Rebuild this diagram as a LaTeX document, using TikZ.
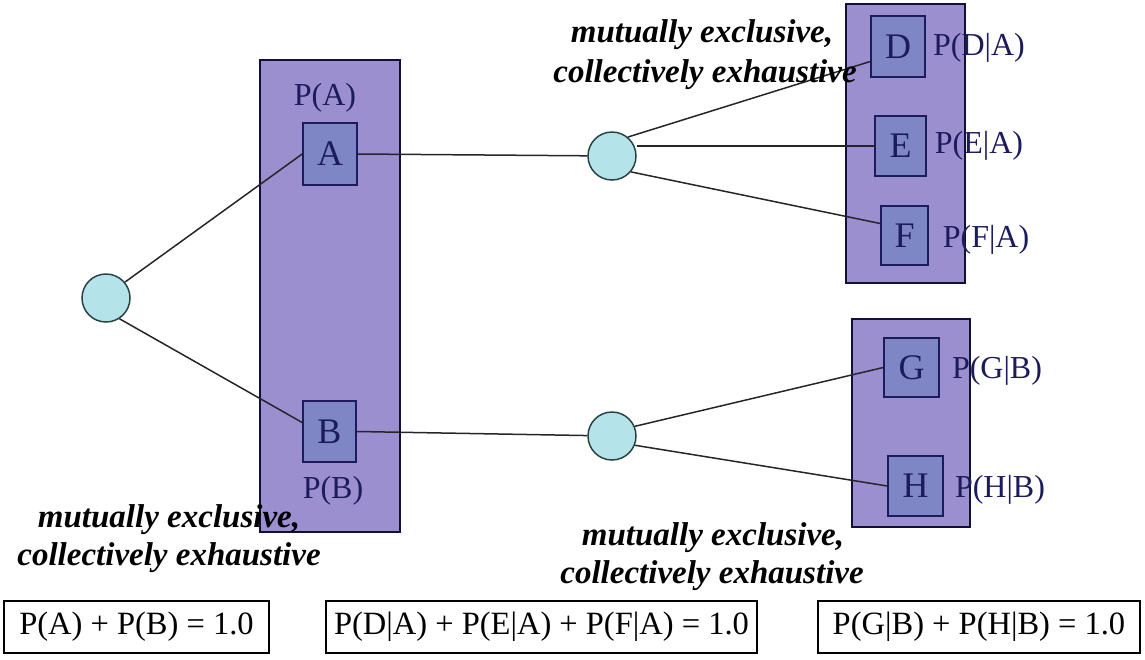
\documentclass[tikz,border=0pt]{standalone}
\usepackage{fontspec}
\setmainfont{Liberation Serif}
\definecolor{outerfill}{HTML}{9B8FCF}
\definecolor{innerfill}{HTML}{7F86C6}
\definecolor{navy}{HTML}{1C1C5C}
\definecolor{circfill}{HTML}{B4E3EA}
\definecolor{circline}{HTML}{2A4444}
\begin{document}
\begin{tikzpicture}[x=1pt,y=-1pt,
  outerbox/.style={draw=navy!60!black, line width=1.6pt, fill=outerfill, inner sep=0pt},
  evbox/.style={draw=navy, line width=1.6pt, fill=innerfill, inner sep=0pt, text=navy, font=\fontsize{36}{40}\selectfont},
  chance/.style={circle, draw=circline, line width=1.5pt, fill=circfill, minimum size=48pt, inner sep=0pt},
  plabel/.style={anchor=base, text=navy, font=\fontsize{32}{36}\selectfont, inner sep=0pt},
  mece/.style={anchor=base, font=\bfseries\itshape\fontsize{33}{38}\selectfont, inner sep=0pt},
  eqbox/.style={draw=black, line width=1.3pt, minimum height=52pt, inner sep=0pt, font=\fontsize{32.5}{36}\selectfont},
  link/.style={draw=black!85, line width=1.5pt}]
\useasboundingbox (0,0) rectangle (1145,659);

% outer group boxes
\node[outerbox, minimum width=140pt, minimum height=472pt] (AB) at (330,296) {};
\node[outerbox, minimum width=119pt, minimum height=279pt] (DEF) at (905.5,143.5) {};
\node[outerbox, minimum width=118pt, minimum height=208pt] (GH) at (911,423) {};

% chance nodes
\node[chance] (c1) at (106,298) {};
\node[chance] (c2) at (612,156) {};
\node[chance] (c3) at (612,436) {};

% event boxes
\node[evbox, minimum width=54pt, minimum height=62pt] (A) at (330,154) {A};
\node[evbox, minimum width=53pt, minimum height=61pt] (B) at (329.5,431.5) {B};
\node[evbox, minimum width=54pt, minimum height=61pt] (D) at (898,46.5) {D};
\node[evbox, minimum width=51pt, minimum height=60pt] (E) at (900.5,146) {E};
\node[evbox, minimum width=47pt, minimum height=59pt] (F) at (904.5,235.5) {F};
\node[evbox, minimum width=55pt, minimum height=59pt] (G) at (911.5,367.5) {G};
\node[evbox, minimum width=55pt, minimum height=60pt] (H) at (915.5,486) {H};

% connectors
\draw[link] (c1.40) -- (A.west);
\draw[link] (c1.-57) -- ([yshift=9pt]B.west);
\draw[link] (A.east) -- (c2);
\draw[link] (B.east) -- (c3);
\draw[link] (c2.50) -- ([yshift=-15pt]D.west);
\draw[link] (c2.east |- E.west) -- (E.west);
\draw[link] (c2.-40) -- ([yshift=12pt]F.west);
\draw[link] (c3.23) -- (G.west);
\draw[link] (c3.-22) -- (H.west);

% probability labels
\node[plabel] (pA) at (325,105) {P(A)};
\node[plabel] (pB) at (333,498) {P(B)};
\node[plabel] (pD) at (979,55) {P(D|A)};
\node[plabel] (pE) at (979,153) {P(E|A)};
\node[plabel] (pF) at (986,247) {P(F|A)};
\node[plabel] (pG) at (997,378) {P(G|B)};
\node[plabel] (pH) at (1000,497) {P(H|B)};

% mutually exclusive texts
\node[mece] (m1a) at (169,527) {mutually exclusive,};
\node[mece] (m1b) at (169,565) {collectively exhaustive};
\node[mece] (m2a) at (702,42) {mutually exclusive,};
\node[mece] (m2b) at (705,82) {collectively exhaustive};
\node[mece] (m3a) at (713,545) {mutually exclusive,};
\node[mece] (m3b) at (712,583) {collectively exhaustive};

% sum boxes
\node[eqbox, minimum width=265pt] (eq1) at (136.5,627) {P(A) + P(B) = 1.0};
\node[eqbox, minimum width=431pt] (eq2) at (541.5,627) {P(D|A) + P(E|A) + P(F|A) = 1.0};
\node[eqbox, minimum width=322pt] (eq3) at (979,627) {P(G|B) + P(H|B) = 1.0};
\end{tikzpicture}
\end{document}
